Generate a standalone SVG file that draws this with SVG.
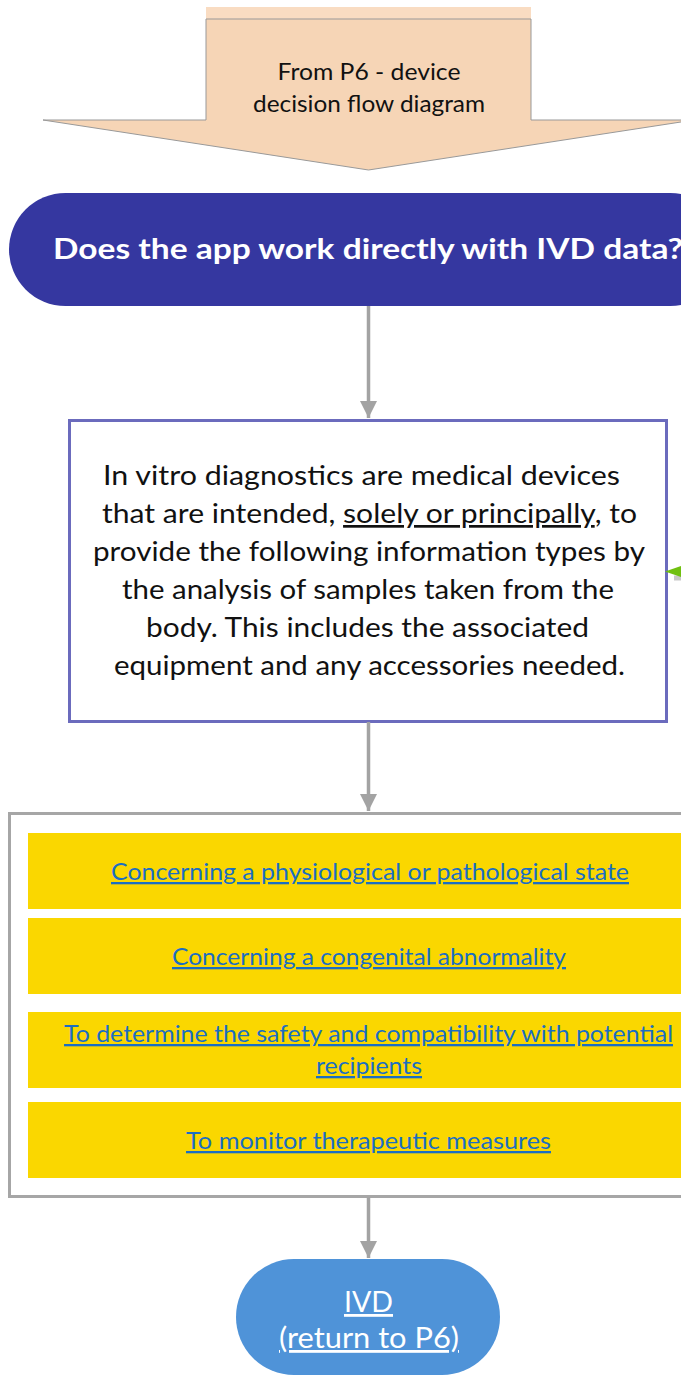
<svg xmlns="http://www.w3.org/2000/svg" width="681" height="1377" viewBox="0 0 681 1377">
<style>
  text { font-family: Lato, "Liberation Sans", sans-serif; text-anchor: middle; }
  .conn { stroke: #a3a3a3; stroke-width: 3.5; fill: none; }
  .body { font-size: 27px; fill: #111; }
  .item { font-size: 23px; fill: #1b6ec2; text-decoration: underline; }
  .bar { fill: #fad700; }
  .ivd { font-size: 28px; fill: #fff; text-decoration: underline; }
</style>
<defs>
  <marker id="ah" markerWidth="5" markerHeight="5" refX="5" refY="2.5" orient="auto" markerUnits="strokeWidth">
    <path d="M0,0 L5,2.5 L0,5 Z" fill="#a3a3a3"/>
  </marker>
</defs>

<g id="from-p6">
  <rect x="206" y="7" width="325" height="12" fill="#f9dcc2"/>
  <path d="M206,19 L531,19 L531,120 L694,120 L368.5,170 L43,120 L206,120 Z" fill="#f6d5b6" stroke="#999" stroke-width="1"/>
  <text x="369" y="80" font-size="24" fill="#111" textLength="183" lengthAdjust="spacingAndGlyphs">From P6 - device</text>
  <text x="369" y="112" font-size="24" fill="#111" textLength="232" lengthAdjust="spacingAndGlyphs">decision flow diagram</text>
</g>

<g id="question">
  <rect x="9" y="193" width="718" height="113" rx="56.5" fill="#3537a0"/>
  <text x="368" y="259" font-size="29" font-weight="bold" fill="#fff" textLength="630" lengthAdjust="spacingAndGlyphs">Does the app work directly with IVD data?</text>
</g>

<g id="definition">
  <rect x="69.5" y="420.5" width="597" height="301" fill="#fff" stroke="#6b6bbd" stroke-width="3"/>
  <text class="body" x="361.5" y="485" textLength="517" lengthAdjust="spacingAndGlyphs">In vitro diagnostics are medical devices</text>
  <text class="body" x="369.5" y="523" textLength="535" lengthAdjust="spacingAndGlyphs">that are intended, <tspan text-decoration="underline">solely or principally</tspan>, to</text>
  <text class="body" x="369" y="561" textLength="552" lengthAdjust="spacingAndGlyphs">provide the following information types by</text>
  <text class="body" x="368" y="599" textLength="492" lengthAdjust="spacingAndGlyphs">the analysis of samples taken from the</text>
  <text class="body" x="367.5" y="637" textLength="443" lengthAdjust="spacingAndGlyphs">body. This includes the associated</text>
  <text class="body" x="369.5" y="675" textLength="511" lengthAdjust="spacingAndGlyphs">equipment and any accessories needed.</text>
</g>

<g id="info-types">
  <rect x="9.5" y="813.5" width="718" height="383" fill="#fff" stroke="#a6a6a6" stroke-width="3"/>
  <rect class="bar" x="28" y="833" width="680" height="76"/>
  <rect class="bar" x="28" y="918" width="680" height="76"/>
  <rect class="bar" x="28" y="1012" width="680" height="76"/>
  <rect class="bar" x="28" y="1102" width="680" height="76"/>
  <text class="item" x="370" y="880" textLength="518" lengthAdjust="spacingAndGlyphs">Concerning a physiological or pathological state</text>
  <text class="item" x="369" y="965" textLength="394" lengthAdjust="spacingAndGlyphs">Concerning a congenital abnormality</text>
  <text class="item" x="368.5" y="1042" textLength="609" lengthAdjust="spacingAndGlyphs">To determine the safety and compatibility with potential</text>
  <text class="item" x="369" y="1074" textLength="106" lengthAdjust="spacingAndGlyphs">recipients</text>
  <text class="item" x="368.5" y="1149" textLength="365" lengthAdjust="spacingAndGlyphs">To monitor therapeutic measures</text>
</g>

<g id="ivd">
  <rect x="236" y="1259" width="264" height="116" rx="58" fill="#4f93d8"/>
  <text class="ivd" x="368.5" y="1312" textLength="49" lengthAdjust="spacingAndGlyphs">IVD</text>
  <text class="ivd" x="369" y="1348" textLength="180" lengthAdjust="spacingAndGlyphs">(return to P6)</text>
</g>

<g id="connectors">
  <line class="conn" x1="368.5" y1="306" x2="368.5" y2="418" marker-end="url(#ah)"/>
  <line class="conn" x1="368.5" y1="722" x2="368.5" y2="811" marker-end="url(#ah)"/>
  <line class="conn" x1="368.5" y1="1197" x2="368.5" y2="1258" marker-end="url(#ah)"/>
  <path d="M681,575.5 L674,575.5 L674,580.5 L681,580.5 Z" fill="#c8c8c8"/>
  <path d="M665,571.5 L681,566 L681,577 Z" fill="#70c010"/>
</g>
</svg>
